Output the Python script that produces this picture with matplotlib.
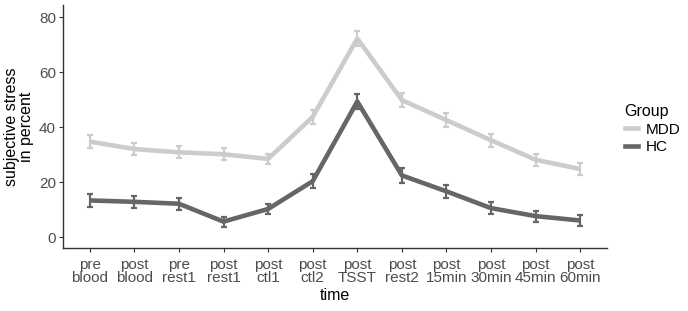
import numpy as np
import matplotlib.pyplot as plt
from matplotlib.lines import Line2D

plt.rcParams["font.family"] = ["Liberation Sans", "DejaVu Sans"]

# data
time_labels = ["pre\nblood", "post\nblood", "pre\nrest1", "post\nrest1", "post\nctl1", "post\nctl2",
               "post\nTSST", "post\nrest2", "post\n15min", "post\n30min", "post\n45min", "post\n60min"]
mdd_mean = [34.7, 32.0, 30.8, 30.1, 28.4, 43.7, 72.2, 49.8, 42.5, 35.2, 28.1, 24.7]
mdd_se = [2.4, 2.3, 2.2, 2.2, 1.8, 2.5, 2.6, 2.6, 2.5, 2.4, 2.1, 2.1]
hc_mean = [13.3, 12.8, 12.1, 5.6, 10.2, 20.3, 49.3, 22.4, 16.6, 10.5, 7.6, 6.0]
hc_se = [2.4, 2.2, 2.1, 1.8, 1.9, 2.5, 2.7, 2.6, 2.4, 2.2, 2.0, 1.9]

groups = ["MDD", "HC"]
colors = {"MDD": "#cccccc", "HC": "#666666"}

fig = plt.figure(figsize=(6.88, 3.11), dpi=100)
ax = fig.add_axes([63 / 688, 1 - 248 / 311, (607 - 63) / 688, (248 - 5) / 311])

x = np.arange(len(time_labels))
for name, m, se in [("MDD", mdd_mean, mdd_se), ("HC", hc_mean, hc_se)]:
    ax.errorbar(x, m, yerr=se, color=colors[name], lw=3.3, elinewidth=1.6,
                capsize=2.5, capthick=1.6, solid_capstyle="butt")

ax.set_xlim(-0.6, 11.6)
ax.set_ylim(-4, 84.4)
ax.set_xticks(x)
ax.set_xticklabels(time_labels, fontsize=11, color="#4d4d4d", linespacing=0.95)
ax.set_yticks([0, 20, 40, 60, 80])
ax.tick_params(axis="y", labelsize=11, labelcolor="#4d4d4d", length=3, color="#333333", pad=2)
ax.tick_params(axis="x", length=3, color="#333333", pad=4)

for s in ["top", "right"]:
    ax.spines[s].set_visible(False)
for s in ["left", "bottom"]:
    ax.spines[s].set_color("#333333")
    ax.spines[s].set_linewidth(1.0)

ax.set_xlabel("time", fontsize=11.5, labelpad=2)
ax.set_ylabel("subjective stress\nin percent", fontsize=11.5, linespacing=0.95, labelpad=4)

handles = [Line2D([], [], color=colors[g], lw=3.3) for g in groups]
fig.legend(handles, groups, loc="upper left", bbox_to_anchor=(614 / 688, 1 - 93 / 311),
           frameon=False, title="Group", fontsize=11, title_fontsize=11.5,
           handlelength=0.9, handletextpad=0.5, labelspacing=0.25, alignment="left",
           borderpad=0.2)

plt.savefig("out.png", dpi=100)
plt.close()
